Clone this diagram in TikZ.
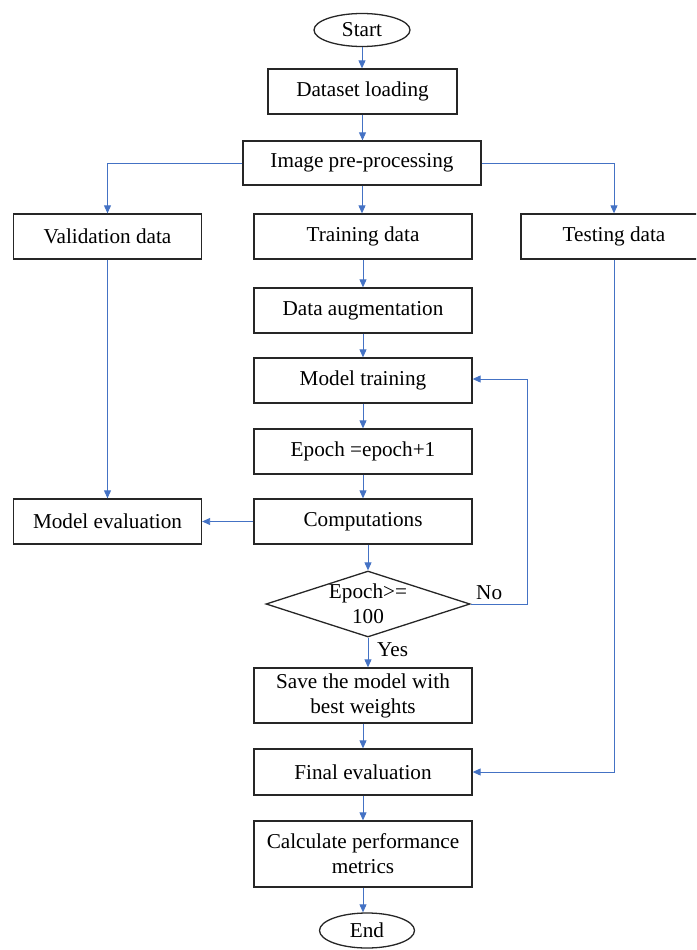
\documentclass[tikz,border=0pt]{standalone}
\usepackage{fontspec}
\setmainfont{Liberation Serif}
\usetikzlibrary{arrows.meta,shapes.geometric}
\definecolor{flowblue}{RGB}{68,114,196}
\begin{document}
\begin{tikzpicture}[x=1pt,y=-1pt,
  every node/.style={font=\fontsize{21.2}{25}\selectfont},
  box/.style={draw=black!85, line width=1.3pt, minimum width=218, minimum height=45, inner sep=0pt, align=center},
  term/.style={draw=black!85, line width=1.3pt, ellipse, minimum width=96, minimum height=33, inner sep=0pt},
  decision/.style={draw=black!85, line width=1.3pt, diamond, aspect=3.09, minimum width=204, minimum height=66, inner sep=0pt, align=center},
  flow/.style={draw=flowblue, line width=0.9pt, -{Triangle[length=8pt,width=7pt]}},
  lbl/.style={inner sep=0pt, align=center}]
\useasboundingbox (0,0) rectangle (696,950);
\clip (0,0) rectangle (696,950);

\node[term] (start) at (362,30) {Start};
\node[box, minimum width=189] (load) at (362.5,91.5) {Dataset loading};
\node[box, minimum width=238, minimum height=44] (pre) at (362,163) {Image pre-processing};
\node[box, minimum width=188] (val) at (107.5,236.5) {Validation data};
\node[box] (train) at (363,236.5) {Training data};
\node[box, minimum width=186] (test) at (614,236.5) {Testing data};
\node[box] (aug) at (363,310.5) {Data augmentation};
\node[box] (mtrain) at (363,380.5) {Model training};
\node[box] (epoch) at (363,451.5) {Epoch =epoch+1};
\node[box] (comp) at (363,521.5) {Computations};
\node[box, minimum width=188] (meval) at (107.5,521.5) {Model evaluation};
\node[decision] (dec) at (368,604) {};
\node[lbl] (dtext) at (368,604) {Epoch>=\\100};
\node[box, minimum height=55] (save) at (363,695.5) {Save the model with\\best weights};
\node[box, minimum height=46] (final) at (363,772) {Final evaluation};
\node[box, minimum height=66] (calc) at (363,854) {Calculate performance\\metrics};
\node[term, minimum width=95, minimum height=35] (end) at (367,930.5) {End};

\node[lbl, anchor=base west] (no) at (476,599) {No};
\node[lbl, anchor=base west] (yes) at (377,656) {Yes};

\coordinate (loopc) at (527,604);
\coordinate (testc) at (614,772);

\draw[flow] (start.south) -- (start.south |- load.north);
\draw[flow] (load.south) -- (load.south |- pre.north);
\draw[flow] (pre.south) -- (pre.south |- train.north);
\draw[flow] (pre.west) -| (val.north);
\draw[flow] (pre.east) -| (test.north);
\draw[flow] (train.south) -- (aug.north);
\draw[flow] (aug.south) -- (mtrain.north);
\draw[flow] (mtrain.south) -- (epoch.north);
\draw[flow] (epoch.south) -- (comp.north);
\draw[flow] (comp.west) -- (meval.east);
\draw[flow] (val.south) -- (meval.north);
\draw[flow] (comp.south -| dec.north) -- (dec.north);
\draw[flow] (dec.east) -- (loopc) |- ([yshift=1.5]mtrain.east);
\draw[flow] (dec.south) -- (dec.south |- save.north);
\draw[flow] (save.south) -- (final.north);
\draw[flow] (test.south) -- (testc) -- (final.east);
\draw[flow] (final.south) -- (calc.north);
\draw[flow] (calc.south) -- (calc.south |- end.north);
\end{tikzpicture}
\end{document}
